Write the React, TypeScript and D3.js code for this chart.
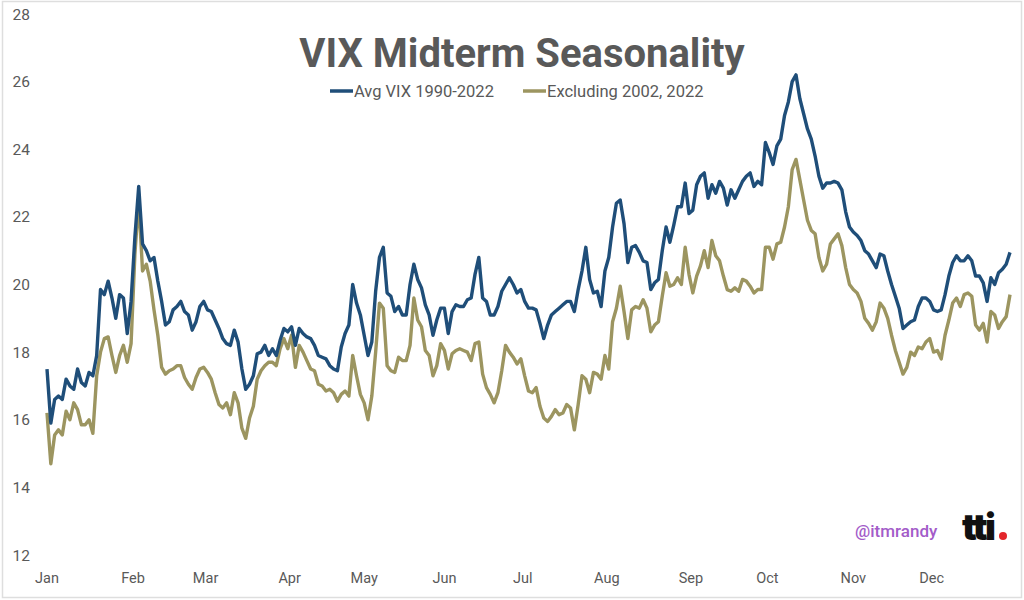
import React from 'react';
import * as d3 from 'd3';

// trading-day index 0..252
const avgVix = [
  17.5, 15.9, 16.6, 16.7, 16.6, 17.2, 17.0, 16.9, 17.5, 17.1,
  17.0, 17.4, 17.3, 17.9, 19.85, 19.7, 20.1, 19.6, 19.0, 19.7,
  19.6, 18.55, 19.5, 21.4, 22.9, 21.2, 21.0, 20.7, 20.8, 20.1,
  19.5, 18.8, 18.9, 19.25, 19.35, 19.5, 19.2, 19.1, 18.65, 18.9,
  19.35, 19.5, 19.25, 19.2, 18.95, 18.7, 18.4, 18.25, 18.2, 18.65,
  18.3, 17.5, 16.9, 17.05, 17.3, 17.95, 18.0, 18.2, 17.9, 18.1,
  17.9, 18.35, 18.7, 18.6, 18.75, 18.2, 18.7, 18.55, 18.45, 18.4,
  18.2, 17.9, 17.85, 17.8, 17.6, 17.5, 17.45, 18.15, 18.55, 18.8,
  20.0, 19.45, 19.1, 18.5, 17.9, 18.3, 19.8, 20.8, 21.1, 19.75,
  19.65, 19.2, 19.35, 19.1, 19.1, 20.0, 20.6, 20.15, 19.9, 19.4,
  19.1, 18.5, 18.95, 19.3, 19.3, 18.55, 19.2, 19.4, 19.35, 19.35,
  19.55, 19.6, 20.3, 20.8, 19.6, 19.5, 19.1, 19.1, 19.35, 19.8,
  20.0, 20.2, 20.0, 19.75, 19.85, 19.5, 19.3, 19.3, 19.25, 18.85,
  18.4, 18.8, 19.1, 19.2, 19.3, 19.4, 19.5, 19.5, 19.2, 19.85,
  20.4, 21.1, 20.15, 19.75, 19.8, 19.35, 20.4, 20.8, 21.7, 22.4,
  22.5, 21.8, 20.65, 21.1, 21.15, 20.95, 20.7, 20.65, 19.85, 20.05,
  20.15, 21.0, 21.7, 21.25, 21.75, 22.3, 22.3, 23.0, 22.1, 22.2,
  22.95, 23.2, 23.3, 22.55, 22.95, 22.7, 23.05, 22.85, 22.35, 22.8,
  22.55, 22.8, 23.05, 23.2, 23.3, 22.9, 23.05, 22.95, 24.2, 23.9,
  23.55, 24.1, 24.3, 25.0, 25.4, 26.0, 26.2, 25.5, 25.05, 24.6,
  24.3, 23.8, 23.2, 22.85, 23.0, 23.0, 23.05, 23.0, 22.8, 22.15,
  21.7, 21.55, 21.45, 21.3, 21.0, 20.9, 20.7, 20.5, 20.9, 20.85,
  20.4, 20.0, 19.65, 19.3, 18.7, 18.8, 18.9, 18.95, 19.35, 19.6,
  19.6, 19.5, 19.25, 19.2, 19.25, 19.7, 20.25, 20.65, 20.85, 20.7,
  20.7, 20.85, 20.7, 20.25, 20.25, 20.05, 19.5, 20.2, 20.0, 20.35,
  20.45, 20.6, 20.95,
];

const exclVix = [
  16.2, 14.7, 15.55, 15.7, 15.55, 16.25, 16.0, 16.5, 16.3, 15.85,
  15.85, 16.0, 15.6, 17.3, 18.0, 18.4, 18.45, 17.9, 17.4, 17.9,
  18.2, 17.7, 18.25, 20.9, 22.5, 20.4, 20.6, 20.1, 19.25, 18.5,
  17.55, 17.35, 17.45, 17.5, 17.6, 17.6, 17.25, 17.05, 16.9, 17.25,
  17.5, 17.55, 17.4, 17.2, 16.8, 16.45, 16.35, 16.5, 16.15, 16.8,
  16.5, 15.75, 15.45, 16.05, 16.4, 17.2, 17.45, 17.6, 17.7, 17.7,
  17.6, 18.1, 18.4, 18.1, 18.5, 17.55, 18.2, 18.0, 17.75, 17.5,
  17.45, 17.05, 17.0, 16.85, 16.9, 16.8, 16.55, 16.75, 16.85, 16.7,
  17.9, 17.3, 16.75, 16.5, 16.0, 16.7, 18.0, 19.45, 19.3, 17.6,
  17.45, 17.4, 17.85, 17.75, 17.75, 18.2, 19.6, 18.95, 18.75, 18.05,
  17.9, 17.3, 17.6, 18.25, 18.05, 17.5, 17.95, 18.05, 18.1, 18.05,
  18.0, 17.75, 18.25, 18.3, 17.35, 16.95, 16.75, 16.5, 16.8, 17.45,
  18.2, 18.0, 17.85, 17.65, 17.8, 17.3, 16.85, 16.8, 16.95, 16.4,
  16.05, 15.95, 16.1, 16.3, 16.15, 16.2, 16.45, 16.35, 15.7, 16.45,
  17.3, 17.2, 16.8, 17.4, 17.35, 17.2, 17.9, 17.5, 18.9, 19.3,
  19.95, 19.2, 18.4, 19.25, 19.35, 19.3, 19.55, 19.3, 18.6, 18.8,
  18.9, 19.65, 20.35, 19.95, 20.0, 20.2, 20.0, 21.1, 20.3, 19.75,
  20.25, 20.55, 21.0, 20.5, 21.3, 20.85, 20.7, 20.25, 19.85, 19.8,
  19.9, 19.8, 20.15, 20.1, 19.95, 19.75, 19.85, 19.85, 21.1, 21.1,
  20.75, 21.2, 21.25, 21.7, 22.3, 23.4, 23.7, 23.1, 22.5, 21.9,
  21.6, 21.5, 20.8, 20.4, 20.6, 21.2, 21.35, 21.5, 21.15, 20.5,
  20.0, 19.85, 19.75, 19.5, 19.0, 18.85, 18.65, 18.9, 19.45, 19.3,
  19.0, 18.5, 18.05, 17.7, 17.35, 17.55, 18.0, 17.9, 18.15, 18.1,
  18.3, 18.4, 18.0, 18.05, 17.8, 18.5, 18.95, 19.45, 19.6, 19.35,
  19.7, 19.75, 19.65, 18.8, 18.65, 18.85, 18.3, 19.2, 19.1, 18.7,
  18.9, 19.05, 19.7,
];

const months = ['Jan', 'Feb', 'Mar', 'Apr', 'May', 'Jun', 'Jul', 'Aug', 'Sep', 'Oct', 'Nov', 'Dec'];
// where each month label sits, in trading days
const monthLabelDay = [0, 22.5, 41.5, 63.5, 83, 104, 124.5, 146.5, 168.5, 188.5, 211, 231.5];
const yTicks = [12, 14, 16, 18, 20, 22, 24, 26, 28];

const seriesNames = ['Avg VIX 1990-2022', 'Excluding 2002, 2022'];
const seriesColors = ['#1f4e79', '#9c9560'];

const W = 1024;
const H = 600;
const labelFont = 'Roboto, "Noto Sans", sans-serif';

export default function App() {
  const x = d3.scaleLinear().domain([0, avgVix.length - 1]).range([47, 1010]);
  const y = d3.scaleLinear().domain([12, 28]).range([555, 14]);

  const line = d3.line<number>()
    .x((_, i) => x(i))
    .y(d => y(d));

  const series = [avgVix, exclVix];

  return (
    <svg width={W} height={H} style={{ position: 'absolute', left: 0, top: 0, background: '#fff' }}>
      <rect x={2.5} y={1.5} width={1019} height={596} fill="#fff" stroke="#dedede" strokeWidth={1.5} />

      {/* title */}
      <text x={522} y={67} textAnchor="middle" fill="#595959" fontFamily={labelFont}
        fontWeight={700} fontSize={40}>
        VIX Midterm Seasonality
      </text>

      {/* legend */}
      {seriesNames.map((name, i) => {
        const lx = i === 0 ? 330 : 523;
        return (
          <g key={name}>
            <line x1={lx} x2={lx + 23} y1={91} y2={91} stroke={seriesColors[i]} strokeWidth={3.5} />
            <text x={lx + 24} y={96.5} fill="#595959" fontFamily={labelFont} fontSize={16.5}>{name}</text>
          </g>
        );
      })}

      {/* y tick labels */}
      {yTicks.map(t => (
        <text key={t} x={30} y={y(t) + 5.5} textAnchor="end" fill="#595959"
          fontFamily={labelFont} fontSize={15.5}>{t}</text>
      ))}

      {/* month labels */}
      {months.map((m, i) => (
        <text key={m} x={x(monthLabelDay[i])} y={583} textAnchor="middle" fill="#595959"
          fontFamily={labelFont} fontSize={14.5}>{m}</text>
      ))}

      {/* lines */}
      {series.map((s, i) => (
        <path key={seriesNames[i]} d={line(s) || ''} fill="none" stroke={seriesColors[i]}
          strokeWidth={3.4} strokeLinejoin="round" />
      )).reverse()}

      {/* watermark */}
      <text x={855} y={537} fill="#a35cc9" fontFamily={labelFont} fontWeight={500} fontSize={17}>@itmrandy</text>
      <text x={962} y={540} fill="#111" fontFamily="Inter, sans-serif" fontWeight={900}
        fontSize={37} letterSpacing={-2.5}>tti</text>
      <circle cx={1003} cy={536} r={4} fill="#e3262b" />
    </svg>
  );
}
